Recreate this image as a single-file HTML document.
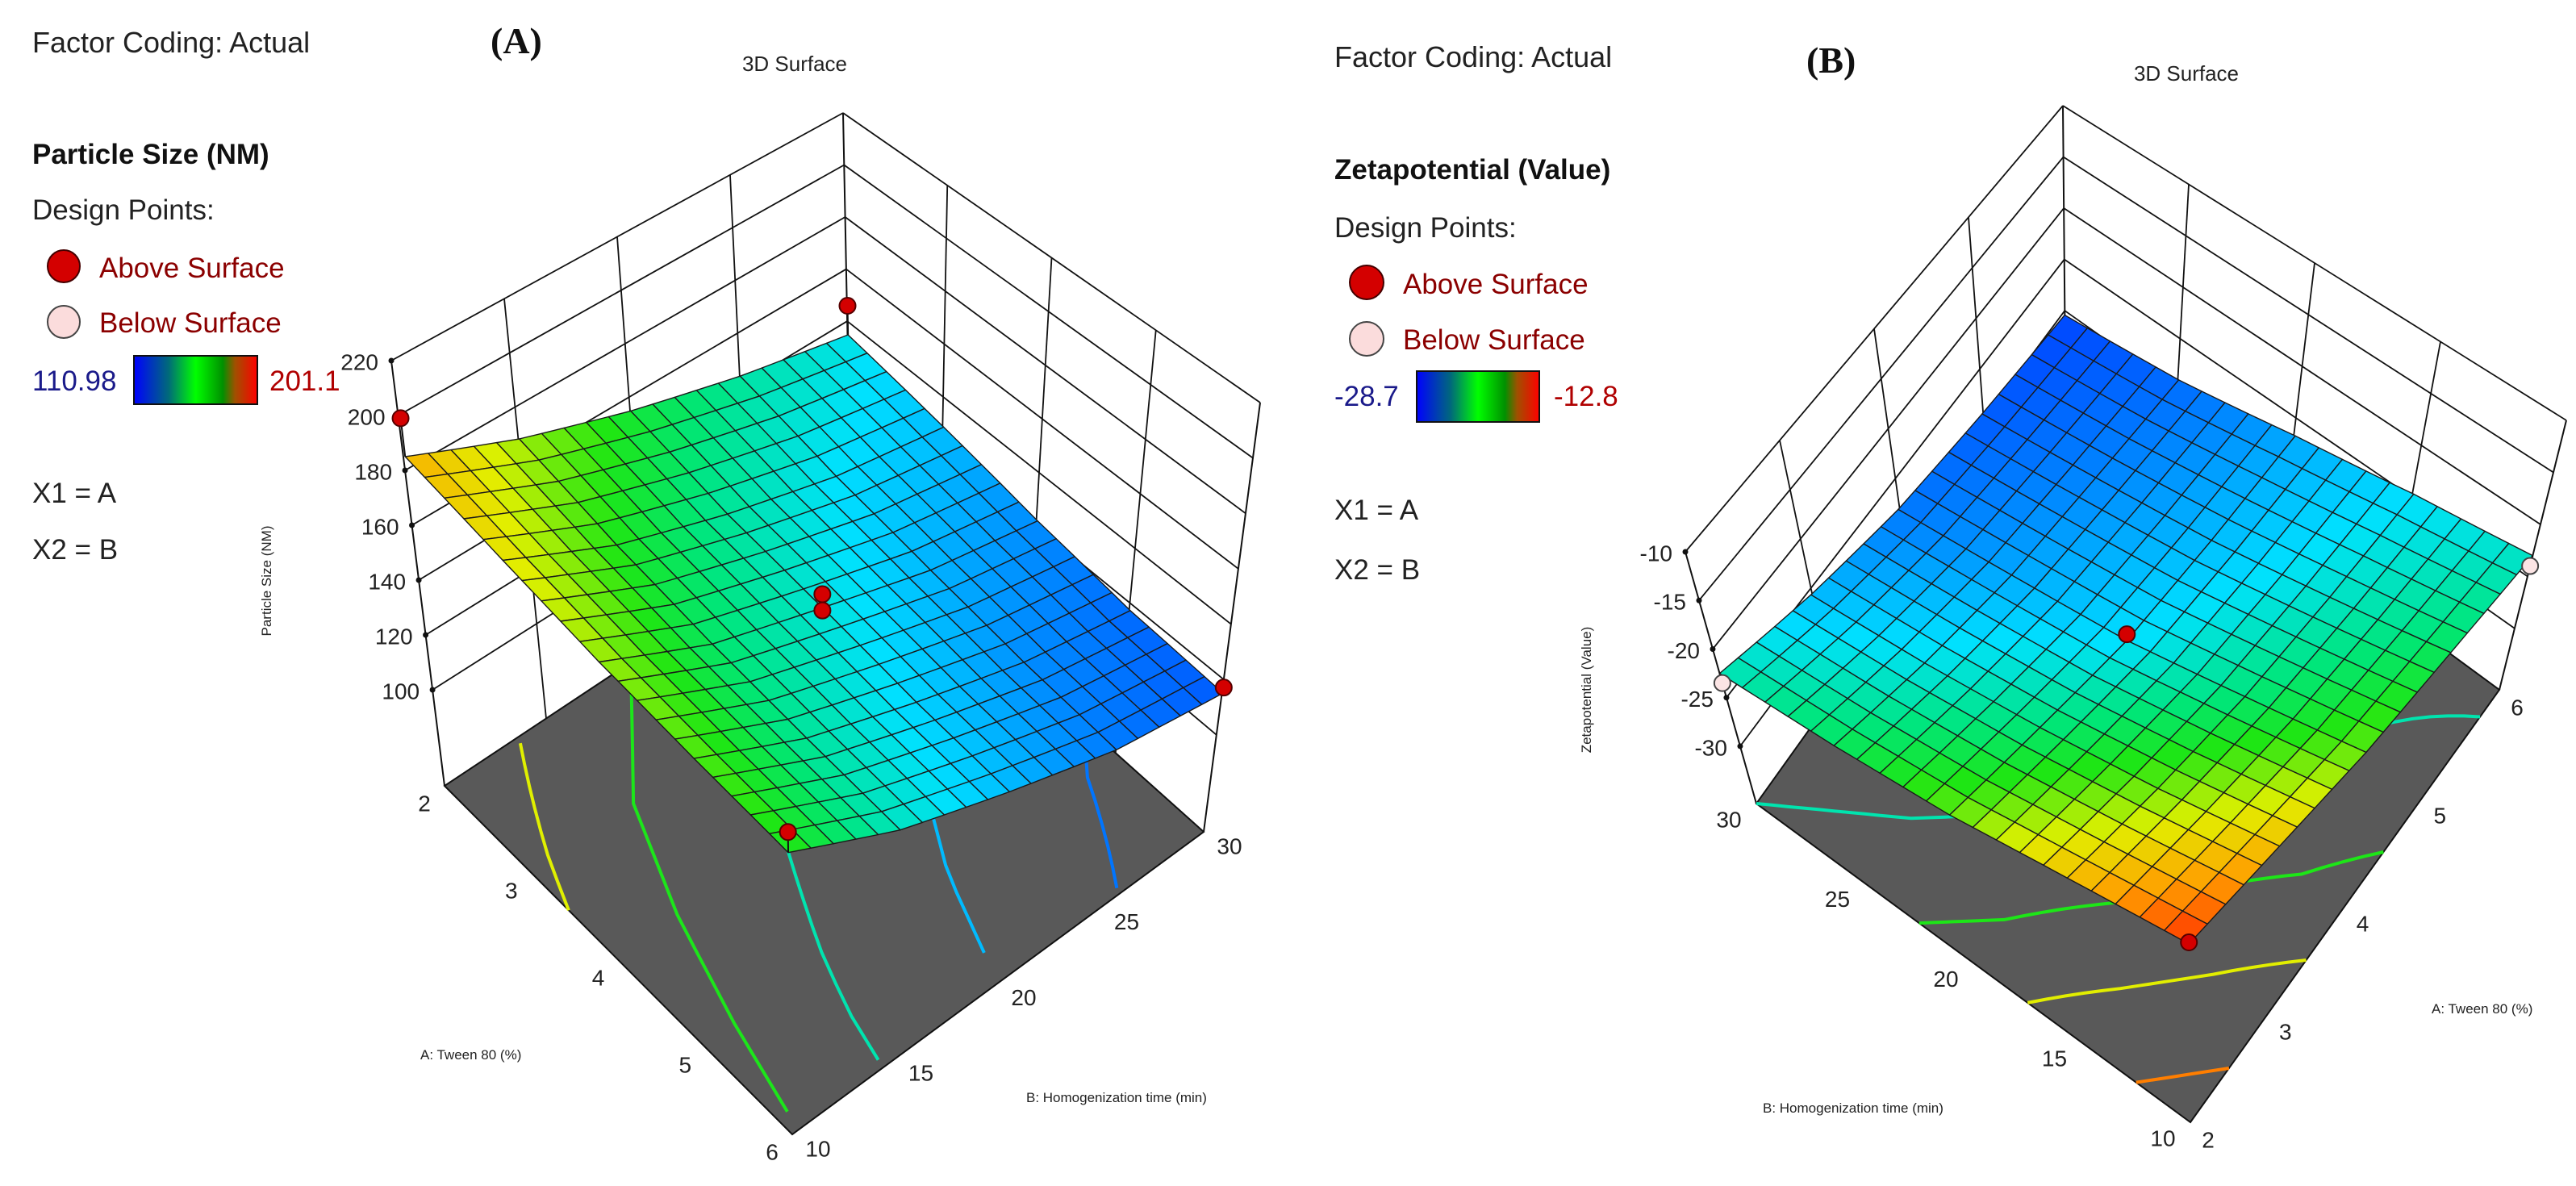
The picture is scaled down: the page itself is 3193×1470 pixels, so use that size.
<!DOCTYPE html>
<html><head><meta charset="utf-8"><style>
html,body{margin:0;padding:0;background:#fff;}
svg{display:block;font-family:"Liberation Sans",sans-serif;}
</style></head><body>
<svg id="chart" xmlns="http://www.w3.org/2000/svg" width="3193" height="1470" viewBox="0 0 3193 1470">
<defs>
<linearGradient id="cbar" x1="0" x2="1" y1="0" y2="0">
<stop offset="0" stop-color="#0000ff"/><stop offset="0.28" stop-color="#006a7a"/><stop offset="0.5" stop-color="#00ff00"/><stop offset="0.72" stop-color="#009000"/><stop offset="0.82" stop-color="#a05000"/><stop offset="1" stop-color="#ff0000"/>
</linearGradient>
</defs>
<g>
<text x="40" y="65" font-size="36" fill="#222">Factor Coding: Actual</text>
<text x="608" y="66" font-size="46" font-weight="bold" font-family="Liberation Serif, serif" fill="#111">(A)</text>
<text x="985" y="88" font-size="26" text-anchor="middle" fill="#222">3D Surface</text>
<text x="40" y="203" font-size="35" font-weight="bold" fill="#111">Particle Size (NM)</text>
<text x="40" y="272" font-size="35" fill="#222">Design Points:</text>
<circle cx="79" cy="330" r="20" fill="#d40000" stroke="#400" stroke-width="2"/>
<text x="123" y="344" font-size="35" fill="#8b0000">Above Surface</text>
<circle cx="79" cy="399" r="20" fill="#fbdcdc" stroke="#444" stroke-width="2"/>
<text x="123" y="412" font-size="35" fill="#8b0000">Below Surface</text>
<text x="40" y="484" font-size="35" fill="#1a1a8a">110.98</text>
<rect x="166" y="441" width="153" height="60" fill="url(#cbar)" stroke="#111" stroke-width="2"/>
<text x="334" y="484" font-size="35" fill="#b00000">201.1</text>
<text x="40" y="623" font-size="35" fill="#222">X1 = A</text>
<text x="40" y="693" font-size="35" fill="#222">X2 = B</text>
</g>
<g>
<text x="1654" y="83" font-size="36" fill="#222">Factor Coding: Actual</text>
<text x="2239" y="90" font-size="46" font-weight="bold" font-family="Liberation Serif, serif" fill="#111">(B)</text>
<text x="2710" y="100" font-size="26" text-anchor="middle" fill="#222">3D Surface</text>
<text x="1654" y="222" font-size="35" font-weight="bold" fill="#111">Zetapotential (Value)</text>
<text x="1654" y="294" font-size="35" fill="#222">Design Points:</text>
<circle cx="1694" cy="350" r="21" fill="#d40000" stroke="#400" stroke-width="2"/>
<text x="1739" y="364" font-size="35" fill="#8b0000">Above Surface</text>
<circle cx="1694" cy="420" r="21" fill="#fbdcdc" stroke="#444" stroke-width="2"/>
<text x="1739" y="433" font-size="35" fill="#8b0000">Below Surface</text>
<text x="1654" y="503" font-size="35" fill="#1a1a8a">-28.7</text>
<rect x="1756" y="460" width="152" height="63" fill="url(#cbar)" stroke="#111" stroke-width="2"/>
<text x="1926" y="503" font-size="35" fill="#b00000">-12.8</text>
<text x="1654" y="644" font-size="35" fill="#222">X1 = A</text>
<text x="1654" y="718" font-size="35" fill="#222">X2 = B</text>
</g>
<g id="plotA"></g>
<g id="plotB"></g>
</svg>
<script>
// ---- data ----
const tweenTicks = [2, 3, 4, 5, 6];
const timeTicks = [10, 15, 20, 25, 30];
const sizeTicks = [100, 120, 140, 160, 180, 200, 220];
const zetaTicks = [-10, -15, -20, -25, -30];
// particle size grid: rows A=2..6, cols B=10..30
const sizeRowA2 = [185, 170, 158, 148, 140];
const sizeRowA3 = [177, 160, 148, 138, 132];
const sizeRowA4 = [170, 153, 142, 131, 124];
const sizeRowA5 = [165, 148, 136, 125, 118];
const sizeRowA6 = [161, 144, 132, 121, 115];
const sizeContourLevels = [174, 160, 146, 132, 120];
const sizePtsA = [2, 2, 6, 6, 4, 4];
const sizePtsB = [10, 30, 10, 30, 20, 20];
const sizePtsZ = [199, 152, 168, 117, 147, 141];
const sizePtsAbove = [1, 1, 1, 1, 1, 1];
// zeta potential grid
const zetaRowA2 = [-13, -16, -19, -21, -22.5];
const zetaRowA3 = [-16, -19, -21.5, -23.5, -25];
const zetaRowA4 = [-19, -21.5, -24, -25.5, -27];
const zetaRowA5 = [-21, -23, -25, -26.5, -28];
const zetaRowA6 = [-23, -24, -25.5, -27.5, -28.7];
const zetaContourLevels = [-14.5, -17.5, -20, -22.5];
const zetaPtsA = [2, 4, 2, 6];
const zetaPtsB = [10, 20, 30, 10];
const zetaPtsZ = [-12.8, -23.3, -23.5, -24];
const zetaPtsAbove = [1, 1, 0, 0];

const NS = 'http://www.w3.org/2000/svg';
function mk(tag, attrs, parent){ const e=document.createElementNS(NS,tag); for(const k in attrs) e.setAttribute(k,attrs[k]); parent.appendChild(e); return e; }

const stops=[[0,[0,70,255]],[0.15,[0,140,255]],[0.3,[0,225,255]],[0.45,[0,230,120]],[0.55,[30,230,20]],[0.7,[225,240,0]],[0.85,[255,160,0]],[1,[255,40,0]]];
function cmap(t){ t=Math.max(0,Math.min(1,t)); for(let i=1;i<stops.length;i++){ if(t<=stops[i][0]){ const a=stops[i-1],b=stops[i]; const f=(t-a[0])/(b[0]-a[0]); const c=a[1].map((v,k)=>Math.round(v+(b[1][k]-v)*f)); return 'rgb('+c.join(',')+')'; } } return 'rgb(255,40,0)'; }

function zAt(grid,a,b){ const ia=a-2, ib=(b-10)/5; const i0=Math.min(Math.floor(ia),3), j0=Math.min(Math.floor(ib),3); const fa=ia-i0, fb=ib-j0;
  return grid[i0][j0]*(1-fa)*(1-fb)+grid[i0+1][j0]*fa*(1-fb)+grid[i0+1][j0+1]*fa*fb+grid[i0][j0+1]*(1-fa)*fb; }
function bil(C,u,w){ return [0,1].map(k=>C.c00[k]*(1-u)*(1-w)+C.c10[k]*u*(1-w)+C.c11[k]*u*w+C.c01[k]*(1-u)*w); }
function proj(cfg,a,b,z){ const u=(a-2)/4, w=(b-10)/20; const f=bil(cfg.floor,u,w), t=bil(cfg.top,u,w); const s=(z-cfg.zf)/(cfg.zt-cfg.zf); return [f[0]+(t[0]-f[0])*s, f[1]+(t[1]-f[1])*s]; }
function pstr(pts){ return pts.map(p=>p[0].toFixed(1)+','+p[1].toFixed(1)).join(' '); }
function lerp(p,q,t){ return [p[0]+(q[0]-p[0])*t, p[1]+(q[1]-p[1])*t]; }

function drawPanel(g,cfg,grid,levels,pA,pB,pZ,pAbove,zTicks,zTickVals){
  const cols=cfg.frameCols;
  const fz=(c,z)=>lerp(c.bot,c.top,(z-cfg.zf)/(cfg.frameZt-cfg.zf));
  for(let i=0;i<cols.length;i++){ const l=mk('line',{x1:cols[i].bot[0],y1:cols[i].bot[1],x2:cols[i].top[0],y2:cols[i].top[1],stroke:'#111','stroke-width':2},g);
    
     }
  for(let i=0;i<cols.length-1;i++){
    for(const z of zTicks){ const p=fz(cols[i],z), q=fz(cols[i+1],z);
      const l=mk('line',{x1:p[0],y1:p[1],x2:q[0],y2:q[1],stroke:'#111','stroke-width':1.8},g);
      
       }
    for(let k=1;k<4;k++){ const p=lerp(cols[i].bot,cols[i+1].bot,k/4), q=lerp(cols[i].top,cols[i+1].top,k/4);
      const l=mk('line',{x1:p[0],y1:p[1],x2:q[0],y2:q[1],stroke:'#111','stroke-width':1.8},g);
      
       }
  }
  zTicks.forEach((z,i)=>{ const p=fz(cols[0],z);
    const d=mk('circle',{cx:p[0],cy:p[1],r:3.5,fill:'#111'},g);
    
    
    const t=mk('text',{x:p[0]-16,y:p[1]+4,'font-size':28,'text-anchor':'end','dominant-baseline':'middle',fill:'#222'},g);
    t.textContent=zTickVals[i];
    
     });
  const F=cfg.floor;
  const fl=mk('polygon',{points:pstr([F.c00,F.c10,F.c11,F.c01]),fill:'#595959',stroke:'#111','stroke-width':2},g);
  
  
  levels.forEach(lv=>{ let seg=[];
    const flush=()=>{ if(seg.length>1){ const pl=mk('polyline',{points:pstr(seg),fill:'none',stroke:cmap((lv-cfg.zmin)/(cfg.zmax-cfg.zmin)),'stroke-width':4},g);
      
       } seg=[]; };
    for(let b=10;b<=30.001;b+=0.5){ let found=null;
      for(let a=2;a<6;a+=0.05){ const z1=zAt(grid,a,b)-lv, z2=zAt(grid,Math.min(a+0.05,6),b)-lv; if(z1===0||z1*z2<0){ found=a+0.05*z1/(z1-z2); break; } }
      if(found===null) flush(); else seg.push(proj(cfg,found,b,cfg.zf)); }
    flush(); });
  const N=20, cells=[];
  for(let i=0;i<N;i++) for(let j=0;j<N;j++){
    const a0=2+4*i/N,a1=2+4*(i+1)/N,b0=10+20*j/N,b1=10+20*(j+1)/N;
    const cz=[[a0,b0],[a1,b0],[a1,b1],[a0,b1]].map(([a,b])=>[a,b,zAt(grid,a,b)]);
    const pts=cz.map(([a,b,z])=>proj(cfg,a,b,z)); const zm=cz.reduce((s,c)=>s+c[2],0)/4;
    cells.push({pts,zm,y:pts.reduce((s,p)=>s+p[1],0)/4}); }
  cells.sort((p,q)=>p.y-q.y);
  cells.forEach(c=>{ const pg=mk('polygon',{points:pstr(c.pts),fill:cmap((c.zm-cfg.zmin)/(cfg.zmax-cfg.zmin)),stroke:'#1a1a1a','stroke-width':1.4,'stroke-linejoin':'round'},g);
    
     });
  pA.forEach((a,i)=>{ const b=pB[i], z=pZ[i]; const p=proj(cfg,a,b,z), s=proj(cfg,a,b,zAt(grid,a,b));
    const st=mk('line',{x1:p[0],y1:p[1],x2:s[0],y2:s[1],stroke:'#111','stroke-width':2},g);
    
    
    const c=mk('circle',{cx:p[0],cy:p[1],r:10,fill:pAbove[i]?'#d40000':'#fbe4e4',stroke:pAbove[i]?'#500':'#444','stroke-width':2},g);
    
     });
}

const gA=document.getElementById('plotA');
const cfgA={zf:65,zt:220,frameZt:220,zmin:110.98,zmax:201.1,
  floor:{c00:[551,974],c10:[982,1406],c11:[1492,1031],c01:[1055,640]},
  top:{c00:[488,447],c10:[974,842],c11:[1566,498],c01:[1047,175]},
  frameCols:[{bot:[551,974],top:[485,447]},{bot:[1055,640],top:[1045,140]},{bot:[1492,1031],top:[1562,499]}]};
drawPanel(gA,cfgA,[sizeRowA2,sizeRowA3,sizeRowA4,sizeRowA5,sizeRowA6],sizeContourLevels,sizePtsA,sizePtsB,sizePtsZ,sizePtsAbove,sizeTicks,sizeTicks);
tweenTicks.forEach(a=>{ const p=proj(cfgA,a,10,cfgA.zf);
  const t=mk('text',{x:p[0]-25,y:p[1]+24,'font-size':28,'text-anchor':'middle','dominant-baseline':'middle',fill:'#222'},gA);
  t.textContent=a;
  
   });
timeTicks.forEach(b=>{ const p=proj(cfgA,6,b,cfgA.zf);
  const t=mk('text',{x:p[0]+32,y:p[1]+20,'font-size':28,'text-anchor':'middle','dominant-baseline':'middle',fill:'#222'},gA);
  t.textContent=b;
  
   });

const gB=document.getElementById('plotB');
const cfgB={zf:-35.9,zt:-10,frameZt:-10,zmin:-28.7,zmax:-12.8,
  floor:{c00:[2715,1391],c10:[3098,855],c11:[2560,460],c01:[2177,996]},
  top:{c00:[2713,1141],c10:[3181,521],c11:[2557,210],c01:[2089,684]},
  frameCols:[{bot:[2177,996],top:[2089,684]},{bot:[2560,460],top:[2557,131]},{bot:[3098,855],top:[3181,521]}]};
drawPanel(gB,cfgB,[zetaRowA2,zetaRowA3,zetaRowA4,zetaRowA5,zetaRowA6],zetaContourLevels,zetaPtsA,zetaPtsB,zetaPtsZ,zetaPtsAbove,zetaTicks,zetaTicks);
tweenTicks.forEach(a=>{ const p=proj(cfgB,a,10,cfgB.zf);
  const t=mk('text',{x:p[0]+22,y:p[1]+24,'font-size':28,'text-anchor':'middle','dominant-baseline':'middle',fill:'#222'},gB);
  t.textContent=a;
  
   });
timeTicks.forEach(b=>{ const p=proj(cfgB,2,b,cfgB.zf);
  const t=mk('text',{x:p[0]-34,y:p[1]+22,'font-size':28,'text-anchor':'middle','dominant-baseline':'middle',fill:'#222'},gB);
  t.textContent=b;
  
   });

const svg=document.getElementById('chart');
let t;
t=mk('text',{x:521,y:1313,'font-size':17,fill:'#222'},svg); t.textContent='A: Tween 80 (%)';


t=mk('text',{x:1272,y:1366,'font-size':17,fill:'#222'},svg); t.textContent='B: Homogenization time (min)';


t=mk('text',{x:0,y:0,'font-size':17,fill:'#222','text-anchor':'middle',transform:'translate(336,720) rotate(-90)'},svg); t.textContent='Particle Size (NM)';


t=mk('text',{x:3014,y:1256,'font-size':17,fill:'#222'},svg); t.textContent='A: Tween 80 (%)';


t=mk('text',{x:2185,y:1379,'font-size':17,fill:'#222'},svg); t.textContent='B: Homogenization time (min)';


t=mk('text',{x:0,y:0,'font-size':17,fill:'#222','text-anchor':'middle',transform:'translate(1972,855) rotate(-90)'},svg); t.textContent='Zetapotential (Value)';


</script>
</body></html>
